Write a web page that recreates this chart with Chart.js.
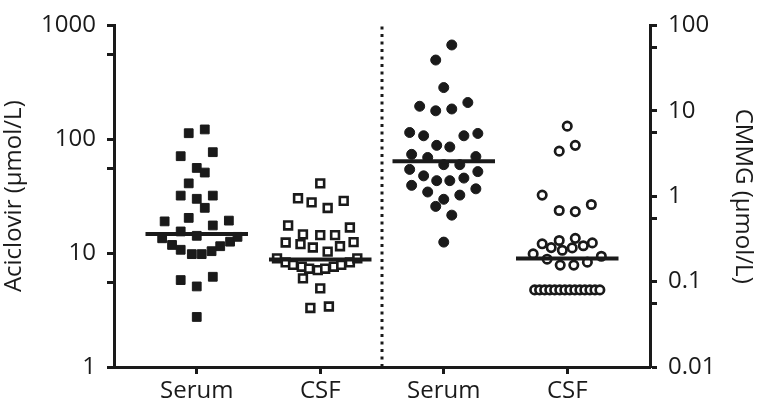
<!DOCTYPE html>
<html>
<head>
<meta charset="utf-8">
<script src="https://cdn.jsdelivr.net/npm/chart.js@4/dist/chart.umd.min.js"></script>
<style>
  html, body { margin: 0; padding: 0; background: #fff; }
  #wrap { width: 757px; height: 407px; }
</style>
</head>
<body>
<div id="wrap"><canvas id="dotChart" width="757" height="407"></canvas></div>
<script>
// categories along the x axis (two panels: Aciclovir | CMMG)
var categories = ['Serum', 'CSF', 'Serum', 'CSF'];

// Aciclovir (left axis, umol/L)
var acvSerum = [122, 113, 71, 77, 56, 51, 41, 32, 30, 32, 25, 19, 20.4, 17.5, 19.3, 15.5, 14.2,
    13.5, 11.8, 10.7, 9.8, 9.8, 10.4, 11.5, 12.6, 13.9, 5.8, 5.1, 6.2, 2.75];
var acvSerumJitter = [0.065, -0.065, -0.13, 0.13, 0, 0.065, -0.065, -0.13, 0, 0.13, 0.065, -0.26, -0.065, 0.13, 0.26, -0.13, 0,
    -0.28, -0.2, -0.13, -0.04, 0.04, 0.12, 0.19, 0.27, 0.33, -0.13, 0, 0.13, 0];

var acvCsf = [41, 30.3, 27.9, 24.9, 28.8, 17.5, 16.8, 14.6, 14.4, 14.4, 12.4, 12.0, 11.2, 11.5, 12.5, 10.3,
    9.0, 8.3, 7.9, 7.6, 7.3, 7.1, 7.3, 7.6, 7.9, 8.3, 9.0, 6.0, 4.9, 3.3, 3.4];
var acvCsfJitter = [0, -0.18, -0.07, 0.06, 0.19, -0.26, 0.24, -0.14, 0, 0.12, -0.28, -0.16, -0.06, 0.16, 0.27, 0.06,
    -0.35, -0.28, -0.22, -0.15, -0.09, -0.02, 0.04, 0.11, 0.17, 0.24, 0.3, -0.14, 0, -0.08, 0.07];

// CMMG (right axis, umol/L)
var cmmgSerum = [59, 39.3, 18.7, 11.3, 10.0, 10.5, 12.5, 5.57, 5.10, 5.10, 5.43, 3.94, 3.77, 3.09, 2.84, 2.91,
    2.34, 2.34, 2.06, 1.94, 1.73, 1.52, 1.52, 1.63, 1.34, 1.12, 1.22, 1.03, 0.92, 0.76, 0.60, 0.29];
var cmmgSerumJitter = [0.065, -0.065, 0, -0.195, -0.065, 0.065, 0.195, -0.276, -0.163, 0.163, 0.276, -0.057, 0.049, -0.26, -0.13, 0.26,
    0, 0.13, -0.276, 0.276, -0.163, -0.057, 0.049, 0.163, -0.26, -0.13, 0.26, 0.13, 0, -0.065, 0.065, 0];

var cmmgCsf = [6.61, 3.94, 3.37, 1.03, 0.68, 0.66, 0.80, 0.277, 0.303, 0.321, 0.284, 0.250, 0.233, 0.248, 0.263,
    0.211, 0.198, 0.183, 0.156, 0.156, 0.169,
    0.08, 0.08, 0.08, 0.08, 0.08, 0.08, 0.08, 0.08, 0.08, 0.08, 0.08, 0.08, 0.08, 0.08];
var cmmgCsfJitter = [0, 0.065, -0.065, -0.203, -0.065, 0.065, 0.195, -0.203, -0.065, 0.065, 0.203, -0.13, -0.04, 0.04, 0.13,
    -0.276, 0.276, -0.163, -0.057, 0.053, 0.163,
    -0.264, -0.224, -0.183, -0.142, -0.102, -0.061, -0.02, 0.02, 0.061, 0.102, 0.142, 0.183, 0.224, 0.264];

var medians = [14.7, 8.8, 2.56, 0.186];

var leftMajor = [1, 10, 100, 1000];
var leftMinor = [5.5, 55, 550];
var rightMajor = [0.01, 0.1, 1, 10, 100];
var rightMinor = [0.055, 0.55, 5.5, 55];

var ink = '#1a1a1a';
var font = { family: '"Open Sans", sans-serif', size: 24 };

function pts(vals, jit, cat) {
    return vals.map(function(v, i) { return { x: cat + jit[i], y: v }; });
}
function medianLine(i) {
    return [{ x: i + 1 - 0.415, y: medians[i] }, { x: i + 1 + 0.415, y: medians[i] }];
}
function lineSet(data, yAxis) {
    return { data: data, yAxisID: yAxis, showLine: true, pointRadius: 0, borderColor: ink, borderWidth: 4, order: 0 };
}
function logAxis(major, minor, pos, title) {
    return {
        type: 'logarithmic', position: pos,
        min: major[0], max: major[major.length - 1],
        afterBuildTicks: function(scale) {
            scale.ticks = major.concat(minor).sort(function(a, b) { return a - b; }).map(function(v) { return { value: v }; });
        },
        afterFit: function(scale) { scale.width = pos === 'left' ? 114 : 107; },
        ticks: {
            color: ink, font: font, padding: 11, autoSkip: false,
            callback: function(v) { return major.indexOf(v) >= 0 ? String(v) : ''; }
        },
        grid: { drawOnChartArea: false, tickLength: 7, tickWidth: 3, tickColor: ink },
        border: { color: ink, width: 3 },
        title: { display: true, text: title, color: ink, font: font, padding: 0 }
    };
}

var ctx = document.getElementById('dotChart').getContext('2d');
var dotChart = new Chart(ctx, {
    type: 'scatter',
    data: {
        datasets: [
            { data: pts(acvSerum, acvSerumJitter, 1), yAxisID: 'y', pointStyle: 'rect', pointRadius: 6.2,
              backgroundColor: ink, borderColor: ink, borderWidth: 1, order: 1 },
            { data: pts(acvCsf, acvCsfJitter, 2), yAxisID: 'y', pointStyle: 'rect', pointRadius: 5.5,
              backgroundColor: '#fff', borderColor: ink, borderWidth: 2.6, order: 1 },
            { data: pts(cmmgSerum, cmmgSerumJitter, 3), yAxisID: 'y2', pointStyle: 'circle', pointRadius: 5,
              backgroundColor: ink, borderColor: ink, borderWidth: 1, order: 1 },
            { data: pts(cmmgCsf, cmmgCsfJitter, 4), yAxisID: 'y2', pointStyle: 'circle', pointRadius: 4.2,
              backgroundColor: '#fff', borderColor: ink, borderWidth: 2.7, order: 1 },
            lineSet(medianLine(0), 'y'),
            lineSet(medianLine(1), 'y'),
            lineSet(medianLine(2), 'y2'),
            lineSet(medianLine(3), 'y2'),
            // dotted divider between the two panels
            { data: [{ x: 2.5, y: 1 }, { x: 2.5, y: 1000 }], yAxisID: 'y', showLine: true, pointRadius: 0,
              borderColor: ink, borderWidth: 3, borderDash: [3, 4.5], order: 2 }
        ]
    },
    options: {
        responsive: false,
        devicePixelRatio: 1,
        animation: false,
        layout: { padding: { top: 12, left: 0, right: 0, bottom: 0 } },
        plugins: { legend: { display: false }, tooltip: { enabled: false } },
        scales: {
            x: {
                type: 'linear', position: 'bottom', min: 0.33, max: 4.67,
                afterBuildTicks: function(scale) {
                    scale.ticks = categories.map(function(c, i) { return { value: i + 1 }; });
                },
                afterFit: function(scale) { scale.height = 40; },
                ticks: {
                    color: ink, font: font, padding: 3, autoSkip: false, maxRotation: 0,
                    callback: function(v, i) { return categories[i]; }
                },
                grid: { drawOnChartArea: false, tickLength: 7, tickWidth: 3, tickColor: ink },
                border: { color: ink, width: 3 }
            },
            y: logAxis(leftMajor, leftMinor, 'left', 'Aciclovir (µmol/L)'),
            y2: logAxis(rightMajor, rightMinor, 'right', 'CMMG (µmol/L)')
        }
    }
});
</script>
</body>
</html>
